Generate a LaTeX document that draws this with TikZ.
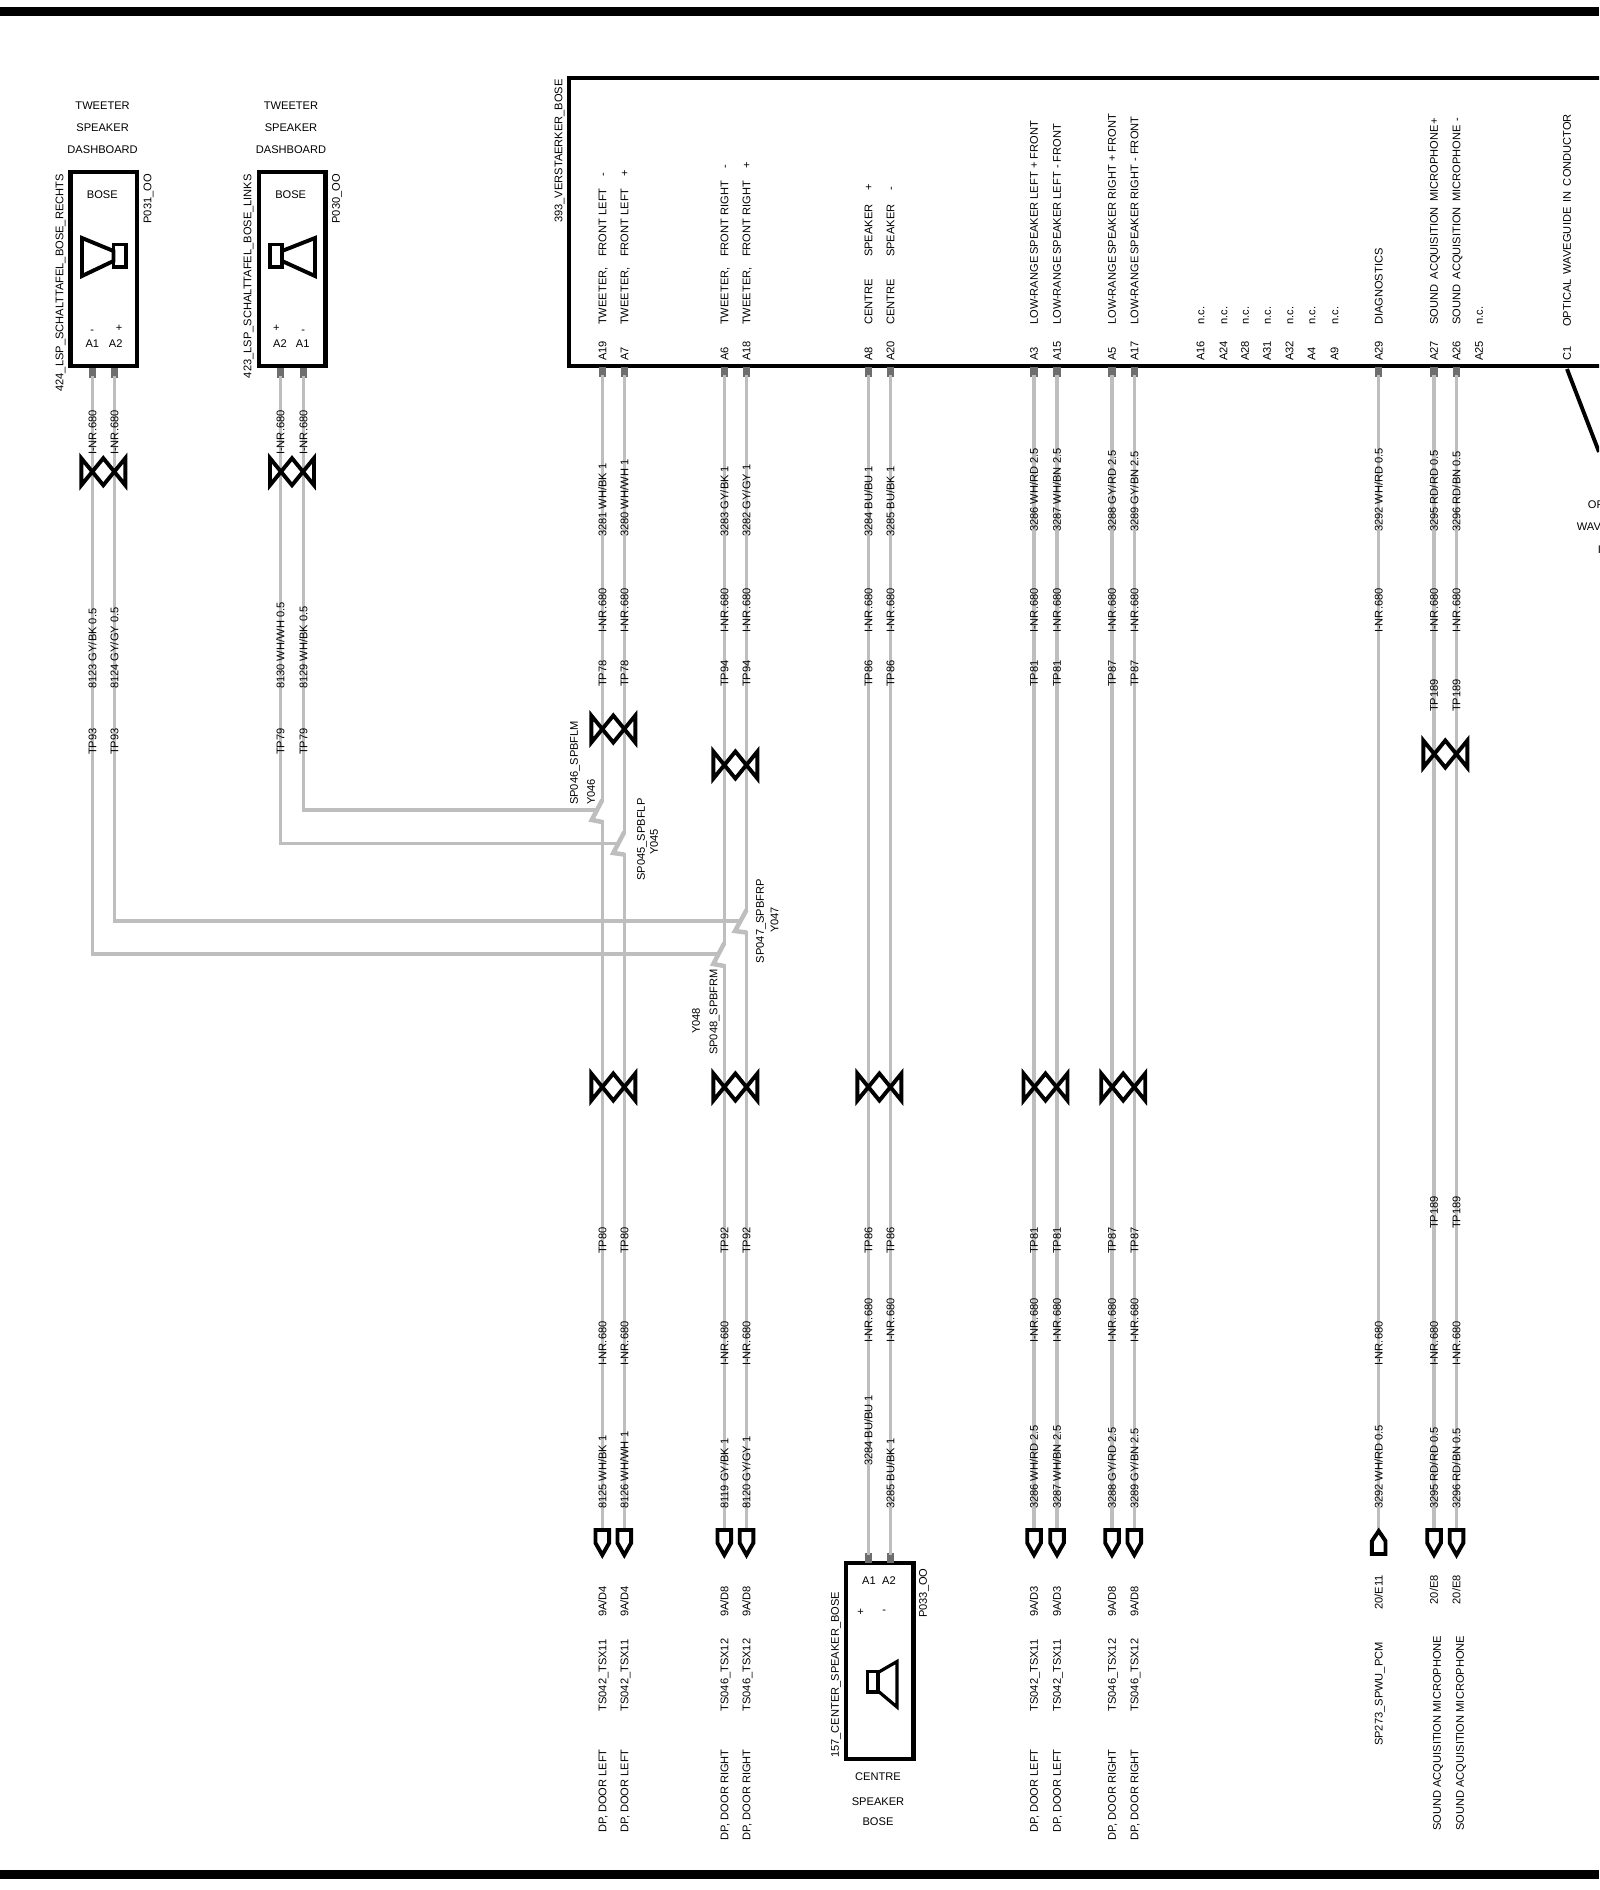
\documentclass[tikz,border=0pt]{standalone}
\usepackage{fontspec}
\setmainfont{Liberation Sans}
\usepackage{tikz}
\usetikzlibrary{calc}
\usepackage{xcolor}
\definecolor{wiregray}{HTML}{BEBEBE}
\definecolor{pingray}{HTML}{6E6E6E}
\tikzset{
	lab/.style={inner sep=0pt, font=\fontsize{11.1}{12}\selectfont, text height=7.9pt, text depth=0pt},
	vlab/.style={lab, rotate=90, anchor=west},
	vlabe/.style={lab, rotate=90, anchor=east},
	wire/.style={-, draw=wiregray, line width=3.4pt, line cap=rect},
	jog/.style={draw=wiregray, line width=4.5pt, miter limit=2},
	heavy/.style={draw=black, line width=3.9pt, miter limit=10},
	box/.style={draw=black, line width=4.4pt, inner sep=0pt, outer sep=0pt},
	pin/.style={fill=pingray, inner sep=0pt, minimum width=7.4pt, minimum height=10pt, outer sep=0pt},
	twistmark/.pic={\draw[heavy] (-22,-13.5) -- (-22,13.5) -- (0,-13.5) -- (22,13.5) -- (22,-13.5) -- (0,13.5) -- cycle;},
	plugdown/.pic={\draw[heavy] (-6.8,0) -- (6.8,0) -- (6.8,13) -- (0,25) -- (-6.8,13) -- cycle;},
	plugup/.pic={\draw[heavy] (-6.8,23) -- (6.8,23) -- (6.8,10) -- (0,0) -- (-6.8,10) -- cycle;}
}

\begin{document}
\begin{tikzpicture}[x=1pt, y=-1pt]
	\useasboundingbox (0,0) rectangle (1599,1890);
	\clip (0,0) rectangle (1599,1890);

	% frame bars
	\fill[black] (0,7) rectangle (1599,16);
	\fill[black] (0,1870) rectangle (1599,1878.5);

	% connector boxes
	\node[box, minimum width=66.4pt, minimum height=194pt] at (103.5,269) (tw1) {};
	\node[box, minimum width=66.6pt, minimum height=194pt] at (292,269) (tw2) {};
	\node[box, minimum width=1100pt, minimum height=288pt] at (1119,222) (amp) {};
	\node[box, minimum width=67.6pt, minimum height=195.7pt] at (879.5,1661) (ctr) {};

	% pins
	\node[pin] at (92.3,373) (p1a1) {};
	\node[pin] at (114.3,373) (p1a2) {};
	\node[pin] at (280.5,373) (p2a2) {};
	\node[pin] at (303.3,373) (p2a1) {};
	\node[pin] at (602.3,372) (a19) {};
	\node[pin] at (624.3,372) (a7) {};
	\node[pin] at (724.3,372) (a6) {};
	\node[pin] at (746.5,372) (a18) {};
	\node[pin] at (868.5,372) (a8) {};
	\node[pin] at (890.3,372) (a20) {};
	\node[pin] at (1034,372) (a3) {};
	\node[pin] at (1057,372) (a15) {};
	\node[pin] at (1112,372) (a5) {};
	\node[pin] at (1134.3,372) (a17) {};
	\node[pin] at (1378.7,372) (a29) {};
	\node[pin] at (1434,372) (a27) {};
	\node[pin] at (1456.5,372) (a26) {};
	\node[pin] at (868.5,1558) (pca1) {};
	\node[pin] at (890.3,1558) (pca2) {};

	% free ends of the wires
	\coordinate (e19) at (602.3,1530);
	\coordinate (e7) at (624.3,1530);
	\coordinate (e6) at (724.3,1530);
	\coordinate (e18) at (746.5,1530);
	\coordinate (e3) at (1034,1530);
	\coordinate (e15) at (1057,1530);
	\coordinate (e5) at (1112,1530);
	\coordinate (e17) at (1134.3,1530);
	\coordinate (e29) at (1378.7,1531);
	\coordinate (e27) at (1434,1530);
	\coordinate (e26) at (1456.5,1530);

	% splices
	\coordinate (j46a) at (602.3,800);
	\coordinate (j46b) at (591.7,820);
	\coordinate (j46c) at (602.3,822);
	\coordinate (j46m) at (597,810);
	\coordinate (k46) at (303.3,810);
	\coordinate (j45a) at (624.3,832);
	\coordinate (j45b) at (613.3,853);
	\coordinate (j45c) at (624.3,854.5);
	\coordinate (j45m) at (618,843.7);
	\coordinate (k45) at (280.5,843.7);
	\coordinate (j47a) at (746.5,910);
	\coordinate (j47b) at (735,931);
	\coordinate (j47c) at (746.5,932.5);
	\coordinate (j47m) at (740.5,921);
	\coordinate (k47) at (114.3,921);
	\coordinate (j48a) at (724.3,943);
	\coordinate (j48b) at (713.3,964);
	\coordinate (j48c) at (724.3,966);
	\coordinate (j48m) at (718.7,954);
	\coordinate (k48) at (92.3,954);

	% wires
	\draw
	(p1a1) edge[wire] (k48)
	(k48) edge[wire] (j48m)
	(p1a2) edge[wire] (k47)
	(k47) edge[wire] (j47m)
	(p2a2) edge[wire] (k45)
	(k45) edge[wire] (j45m)
	(p2a1) edge[wire] (k46)
	(k46) edge[wire] (j46m)
	(a19) edge[wire] (j46a)
	(j46c) edge[wire] (e19)
	(a7) edge[wire] (j45a)
	(j45c) edge[wire] (e7)
	(a6) edge[wire] (j48a)
	(j48c) edge[wire] (e6)
	(a18) edge[wire] (j47a)
	(j47c) edge[wire] (e18)
	(a8) edge[wire] (pca1)
	(a20) edge[wire] (pca2)
	(a3) edge[wire] (e3)
	(a15) edge[wire] (e15)
	(a5) edge[wire] (e5)
	(a17) edge[wire] (e17)
	(a29) edge[wire] (e29)
	(a27) edge[wire] (e27)
	(a26) edge[wire] (e26);
	\draw[jog] (j46a) -- (j46b) -- (j46c);
	\draw[jog] (j45a) -- (j45b) -- (j45c);
	\draw[jog] (j47a) -- (j47b) -- (j47c);
	\draw[jog] (j48a) -- (j48b) -- (j48c);

	% optical lead
	\coordinate (c1) at (1567,369);
	\coordinate (c1end) at (1599,452);
	\draw[heavy] (c1) -- (c1end);

	% twists
	\pic at (103.3,471.7) {twistmark};
	\pic at (292,471.7) {twistmark};
	\pic at (613.3,729) {twistmark};
	\pic at (735.4,765) {twistmark};
	\pic at (1445.3,754) {twistmark};
	\pic at (613.3,1087) {twistmark};
	\pic at (735.4,1087) {twistmark};
	\pic at (879.4,1087) {twistmark};
	\pic at (1045.5,1087) {twistmark};
	\pic at (1123.2,1087) {twistmark};

	% line ends
	\pic at (e19) {plugdown};
	\pic at (e7) {plugdown};
	\pic at (e6) {plugdown};
	\pic at (e18) {plugdown};
	\pic at (e3) {plugdown};
	\pic at (e15) {plugdown};
	\pic at (e5) {plugdown};
	\pic at (e17) {plugdown};
	\pic at (e29) {plugup};
	\pic at (e27) {plugdown};
	\pic at (e26) {plugdown};

	% speakers
	\draw[heavy] (82,238) -- (113.5,251) -- (113.5,261) -- (82,276) -- cycle;
	\draw[heavy] (113.5,244.5) rectangle (126,267);
	\draw[heavy] (315,238) -- (282,251) -- (282,261) -- (315,276) -- cycle;
	\draw[heavy] (282,244.5) rectangle (269.7,267);
	\draw[heavy, line width=3.2pt] (897,1661.5) -- (878,1672.5) -- (878,1691) -- (897,1707) -- cycle;
	\draw[heavy, line width=3.2pt] (878,1671.5) rectangle (867.7,1692);

	% texts on the tweeters
	\node[lab] at (102.6,106) (t1a) {TWEETER};
	\node[lab] at (102.6,128) (t1b) {SPEAKER};
	\node[lab] at (102.6,150) (t1c) {DASHBOARD};
	\node[lab] at (291,106) (t2a) {TWEETER};
	\node[lab] at (291,128) (t2b) {SPEAKER};
	\node[lab] at (291,150) (t2c) {DASHBOARD};
	\node[lab] at (102.3,195) (t1d) {BOSE};
	\node[lab] at (290.7,195) (t2d) {BOSE};
	\node[vlabe] at (59.3,174) (t1e) {424\_LSP\_SCHALTTAFEL\_BOSE\_RECHTS};
	\node[vlabe] at (247.3,174) (t2e) {423\_LSP\_SCHALTTAFEL\_BOSE\_LINKS};
	\node[vlabe] at (147.3,174) (t1f) {P031\_OO};
	\node[vlabe] at (336,174) (t2f) {P030\_OO};
	\node[lab] at (92.3,330) (s1m) {-};
	\node[lab] at (119,328) (s1p) {+};
	\node[lab] at (92.3,344) (n1a) {A1};
	\node[lab] at (115.7,344) (n1b) {A2};
	\node[lab] at (276.3,328) (s2p) {+};
	\node[lab] at (303.3,330) (s2m) {-};
	\node[lab] at (280,344) (n2b) {A2};
	\node[lab] at (302.7,344) (n2a) {A1};

	% texts of the amplifier
	\node[vlabe] at (558.5,79) (ampname) {393\_VERSTAERKER\_BOSE};
	\node[vlab] at (602.3,361) (na19) {A19};
	\node[vlab] at (624.3,361) (na7) {A7};
	\node[vlab] at (724.3,361) (na6) {A6};
	\node[vlab] at (746.5,361) (na18) {A18};
	\node[vlab] at (868.5,361) (na8) {A8};
	\node[vlab] at (890.3,361) (na20) {A20};
	\node[vlab] at (1034,361) (na3) {A3};
	\node[vlab] at (1057,361) (na15) {A15};
	\node[vlab] at (1112,361) (na5) {A5};
	\node[vlab] at (1134.3,361) (na17) {A17};
	\node[vlab] at (1200.5,361) (na16) {A16};
	\node[vlab] at (1223.5,361) (na24) {A24};
	\node[vlab] at (1245,361) (na28) {A28};
	\node[vlab] at (1267,361) (na31) {A31};
	\node[vlab] at (1289.5,361) (na32) {A32};
	\node[vlab] at (1311.5,361) (na4) {A4};
	\node[vlab] at (1334.5,361) (na9) {A9};
	\node[vlab] at (1378.7,361) (na29) {A29};
	\node[vlab] at (1434,361) (na27) {A27};
	\node[vlab] at (1456.5,361) (na26) {A26};
	\node[vlab] at (1479,361) (na25) {A25};
	\node[vlab] at (1567,361) (nc1) {C1};

	\node[vlab] at (602.3,325) (fa19) {\makebox[68pt][l]{TWEETER,}\makebox[80pt][l]{FRONT LEFT}-};
	\node[vlab] at (624.3,325) (fa7) {\makebox[68pt][l]{TWEETER,}\makebox[80pt][l]{FRONT LEFT}+};
	\node[vlab] at (724.3,325) (fa6) {\makebox[68pt][l]{TWEETER,}\makebox[88pt][l]{FRONT RIGHT}-};
	\node[vlab] at (746.5,325) (fa18) {\makebox[68pt][l]{TWEETER,}\makebox[88pt][l]{FRONT RIGHT}+};
	\node[vlab] at (868.5,325) (fa8) {\makebox[68pt][l]{CENTRE}\makebox[66pt][l]{SPEAKER}+};
	\node[vlab] at (890.3,325) (fa20) {\makebox[68pt][l]{CENTRE}\makebox[66pt][l]{SPEAKER}-};
	\node[vlab] at (1034,325) (fa3) {LOW-RANGE\,SPEAKER LEFT + FRONT};
	\node[vlab] at (1057,325) (fa15) {LOW-RANGE\,SPEAKER LEFT - FRONT};
	\node[vlab] at (1112,325) (fa5) {LOW-RANGE\,SPEAKER RIGHT + FRONT};
	\node[vlab] at (1134.3,325) (fa17) {LOW-RANGE\,SPEAKER RIGHT - FRONT};
	\node[vlab] at (1200.5,325) (fa16) {n.c.};
	\node[vlab] at (1223.5,325) (fa24) {n.c.};
	\node[vlab] at (1245,325) (fa28) {n.c.};
	\node[vlab] at (1267,325) (fa31) {n.c.};
	\node[vlab] at (1289.5,325) (fa32) {n.c.};
	\node[vlab] at (1311.5,325) (fa4) {n.c.};
	\node[vlab] at (1334.5,325) (fa9) {n.c.};
	\node[vlab] at (1378.7,325) (fa29) {DIAGNOSTICS};
	\node[vlab] at (1434,325) (fa27) {SOUND\enspace ACQUISITION\enspace MICROPHONE+};
	\node[vlab] at (1456.5,325) (fa26) {SOUND\enspace ACQUISITION\enspace MICROPHONE -};
	\node[vlab] at (1479,325) (fa25) {n.c.};
	\node[vlab] at (1567,327) (fc1) {OPTICAL\hspace{5.2pt}WAVEGUIDE\hspace{5.2pt}IN\hspace{5.2pt}CONDUCTOR};
	\node[lab, anchor=west] at (1587.7,505) (oa) {OP};
	\node[lab, anchor=west] at (1576.7,526.7) (ob) {WAV};
	\node[lab, anchor=west] at (1597.7,550) (oc) {I};

	% wire labels, tweeter side
	\node[vlab] at (92.3,455) (w1a) {I-NR.680};
	\node[vlab] at (114.3,455) (w1b) {I-NR.680};
	\node[vlab] at (280.5,455) (w1c) {I-NR.680};
	\node[vlab] at (303.3,455) (w1d) {I-NR.680};
	\node[vlab] at (92.3,689) (w2a) {8123 GY/BK 0.5};
	\node[vlab] at (114.3,689) (w2b) {8124 GY/GY 0.5};
	\node[vlab] at (280.5,689) (w2c) {8130 WH/WH 0.5};
	\node[vlab] at (303.3,689) (w2d) {8129 WH/BK 0.5};
	\node[vlab] at (92.3,755) (w3a) {TP93};
	\node[vlab] at (114.3,755) (w3b) {TP93};
	\node[vlab] at (280.5,755) (w3c) {TP79};
	\node[vlab] at (303.3,755) (w3d) {TP79};

	% wire labels, upper row
	\node[vlab] at (602.3,537) (u19) {3281 WH/BK 1};
	\node[vlab] at (624.3,537) (u7) {3280 WH/WH 1};
	\node[vlab] at (724.3,537) (u6) {3283 GY/BK 1};
	\node[vlab] at (746.5,537) (u18) {3282 GY/GY 1};
	\node[vlab] at (868.5,537) (u8) {3284 BU/BU 1};
	\node[vlab] at (890.3,537) (u20) {3285 BU/BK 1};
	\node[vlab] at (1034,532) (u3) {3286 WH/RD 2.5};
	\node[vlab] at (1057,532) (u15) {3287 WH/BN 2.5};
	\node[vlab] at (1112,532) (u5) {3288 GY/RD 2.5};
	\node[vlab] at (1134.3,532) (u17) {3289 GY/BN 2.5};
	\node[vlab] at (1378.7,532) (u29) {3292 WH/RD 0.5};
	\node[vlab] at (1434,532) (u27) {3295 RD/RD 0.5};
	\node[vlab] at (1456.5,532) (u26) {3296 RD/BN 0.5};

	\node[vlab] at (602.3,633) (i19) {I-NR.680};
	\node[vlab] at (624.3,633) (i7) {I-NR.680};
	\node[vlab] at (724.3,633) (i6) {I-NR.680};
	\node[vlab] at (746.5,633) (i18) {I-NR.680};
	\node[vlab] at (868.5,633) (i8) {I-NR.680};
	\node[vlab] at (890.3,633) (i20) {I-NR.680};
	\node[vlab] at (1034,633) (i3) {I-NR.680};
	\node[vlab] at (1057,633) (i15) {I-NR.680};
	\node[vlab] at (1112,633) (i5) {I-NR.680};
	\node[vlab] at (1134.3,633) (i17) {I-NR.680};
	\node[vlab] at (1378.7,633) (i29) {I-NR.680};
	\node[vlab] at (1434,633) (i27) {I-NR.680};
	\node[vlab] at (1456.5,633) (i26) {I-NR.680};

	\node[vlab] at (602.3,687) (tp19) {TP78};
	\node[vlab] at (624.3,687) (tp7) {TP78};
	\node[vlab] at (724.3,687) (tp6) {TP94};
	\node[vlab] at (746.5,687) (tp18) {TP94};
	\node[vlab] at (868.5,687) (tp8) {TP86};
	\node[vlab] at (890.3,687) (tp20) {TP86};
	\node[vlab] at (1034,687) (tp3) {TP81};
	\node[vlab] at (1057,687) (tp15) {TP81};
	\node[vlab] at (1112,687) (tp5) {TP87};
	\node[vlab] at (1134.3,687) (tp17) {TP87};
	\node[vlab] at (1434,712) (tp27) {TP189};
	\node[vlab] at (1456.5,712) (tp26) {TP189};

	% splice labels
	\node[vlab] at (574,805) (sp46) {SP046\_SPBFLM};
	\node[vlab] at (591,805) (y46) {Y046};
	\node[vlab] at (641,880.7) (sp45) {SP045\_SPBFLP};
	\node[vlab] at (654,855) (y45) {Y045};
	\node[vlab] at (760,963.3) (sp47) {SP047\_SPBFRP};
	\node[vlab] at (774.3,933) (y47) {Y047};
	\node[vlab] at (713.3,1055) (sp48) {SP048\_SPBFRM};
	\node[vlab] at (696,1034) (y48) {Y048};

	% wire labels, lower row
	\node[vlab] at (602.3,1254) (ltp19) {TP80};
	\node[vlab] at (624.3,1254) (ltp7) {TP80};
	\node[vlab] at (724.3,1254) (ltp6) {TP92};
	\node[vlab] at (746.5,1254) (ltp18) {TP92};
	\node[vlab] at (868.5,1254) (ltp8) {TP86};
	\node[vlab] at (890.3,1254) (ltp20) {TP86};
	\node[vlab] at (1034,1254) (ltp3) {TP81};
	\node[vlab] at (1057,1254) (ltp15) {TP81};
	\node[vlab] at (1112,1254) (ltp5) {TP87};
	\node[vlab] at (1134.3,1254) (ltp17) {TP87};
	\node[vlab] at (1434,1229) (ltp27) {TP189};
	\node[vlab] at (1456.5,1229) (ltp26) {TP189};

	\node[vlab] at (602.3,1366) (li19) {I-NR.680};
	\node[vlab] at (624.3,1366) (li7) {I-NR.680};
	\node[vlab] at (724.3,1366) (li6) {I-NR.680};
	\node[vlab] at (746.5,1366) (li18) {I-NR.680};
	\node[vlab] at (868.5,1343) (li8) {I-NR.680};
	\node[vlab] at (890.3,1343) (li20) {I-NR.680};
	\node[vlab] at (1034,1343) (li3) {I-NR.680};
	\node[vlab] at (1057,1343) (li15) {I-NR.680};
	\node[vlab] at (1112,1343) (li5) {I-NR.680};
	\node[vlab] at (1134.3,1343) (li17) {I-NR.680};
	\node[vlab] at (1378.7,1366) (li29) {I-NR.680};
	\node[vlab] at (1434,1366) (li27) {I-NR.680};
	\node[vlab] at (1456.5,1366) (li26) {I-NR.680};

	\node[vlab] at (602.3,1509) (lc19) {8125 WH/BK 1};
	\node[vlab] at (624.3,1509) (lc7) {8126 WH/WH 1};
	\node[vlab] at (724.3,1509) (lc6) {8119 GY/BK 1};
	\node[vlab] at (746.5,1509) (lc18) {8120 GY/GY 1};
	\node[vlab] at (868.5,1466) (lc8) {3284 BU/BU 1};
	\node[vlab] at (890.3,1509) (lc20) {3285 BU/BK 1};
	\node[vlab] at (1034,1509) (lc3) {3286 WH/RD 2.5};
	\node[vlab] at (1057,1509) (lc15) {3287 WH/BN 2.5};
	\node[vlab] at (1112,1509) (lc5) {3288 GY/RD 2.5};
	\node[vlab] at (1134.3,1509) (lc17) {3289 GY/BN 2.5};
	\node[vlab] at (1378.7,1509) (lc29) {3292 WH/RD 0.5};
	\node[vlab] at (1434,1509) (lc27) {3295 RD/RD 0.5};
	\node[vlab] at (1456.5,1509) (lc26) {3296 RD/BN 0.5};

	% targets below the line ends
	\node[vlab] at (602.3,1617) (d19) {9A/D4};
	\node[vlab] at (624.3,1617) (d7) {9A/D4};
	\node[vlab] at (724.3,1617) (d6) {9A/D8};
	\node[vlab] at (746.5,1617) (d18) {9A/D8};
	\node[vlab] at (1034,1617) (d3) {9A/D3};
	\node[vlab] at (1057,1617) (d15) {9A/D3};
	\node[vlab] at (1112,1617) (d5) {9A/D8};
	\node[vlab] at (1134.3,1617) (d17) {9A/D8};
	\node[vlabe] at (1378.7,1575) (d29) {20/E11};
	\node[vlabe] at (1434,1575) (d27) {20/E8};
	\node[vlabe] at (1456.5,1575) (d26) {20/E8};

	\node[vlab] at (602.3,1711.7) (g19) {TS042\_TSX11};
	\node[vlab] at (624.3,1711.7) (g7) {TS042\_TSX11};
	\node[vlab] at (724.3,1711.7) (g6) {TS046\_TSX12};
	\node[vlab] at (746.5,1711.7) (g18) {TS046\_TSX12};
	\node[vlab] at (1034,1711.7) (g3) {TS042\_TSX11};
	\node[vlab] at (1057,1711.7) (g15) {TS042\_TSX11};
	\node[vlab] at (1112,1711.7) (g5) {TS046\_TSX12};
	\node[vlab] at (1134.3,1711.7) (g17) {TS046\_TSX12};
	\node[vlabe] at (1378.7,1642) (g29) {SP273\_SPWU\_PCM};

	\node[vlabe] at (602.3,1749) (h19) {DP, DOOR LEFT};
	\node[vlabe] at (624.3,1749) (h7) {DP, DOOR LEFT};
	\node[vlabe] at (724.3,1749) (h6) {DP, DOOR RIGHT};
	\node[vlabe] at (746.5,1749) (h18) {DP, DOOR RIGHT};
	\node[vlabe] at (1034,1749) (h3) {DP, DOOR LEFT};
	\node[vlabe] at (1057,1749) (h15) {DP, DOOR LEFT};
	\node[vlabe] at (1112,1749) (h5) {DP, DOOR RIGHT};
	\node[vlabe] at (1134.3,1749) (h17) {DP, DOOR RIGHT};
	\node[vlabe] at (1437,1635.6) (h27) {SOUND ACQUISITION MICROPHONE};
	\node[vlabe] at (1460,1635.6) (h26) {SOUND ACQUISITION MICROPHONE};

	% texts of the centre speaker
	\node[lab] at (869,1581) (nca1) {A1};
	\node[lab] at (889,1581) (nca2) {A2};
	\node[lab] at (860.7,1612) (scp) {+};
	\node[lab] at (884.3,1610) (scm) {-};
	\node[vlab] at (835,1758) (ctrname) {157\_CENTER\_SPEAKER\_BOSE};
	\node[vlab] at (923,1618) (ctrp) {P033\_OO};
	\node[lab] at (878,1777) (ca) {CENTRE};
	\node[lab] at (878,1802) (cb) {SPEAKER};
	\node[lab] at (878,1822) (cc) {BOSE};
\end{tikzpicture}
\end{document}
